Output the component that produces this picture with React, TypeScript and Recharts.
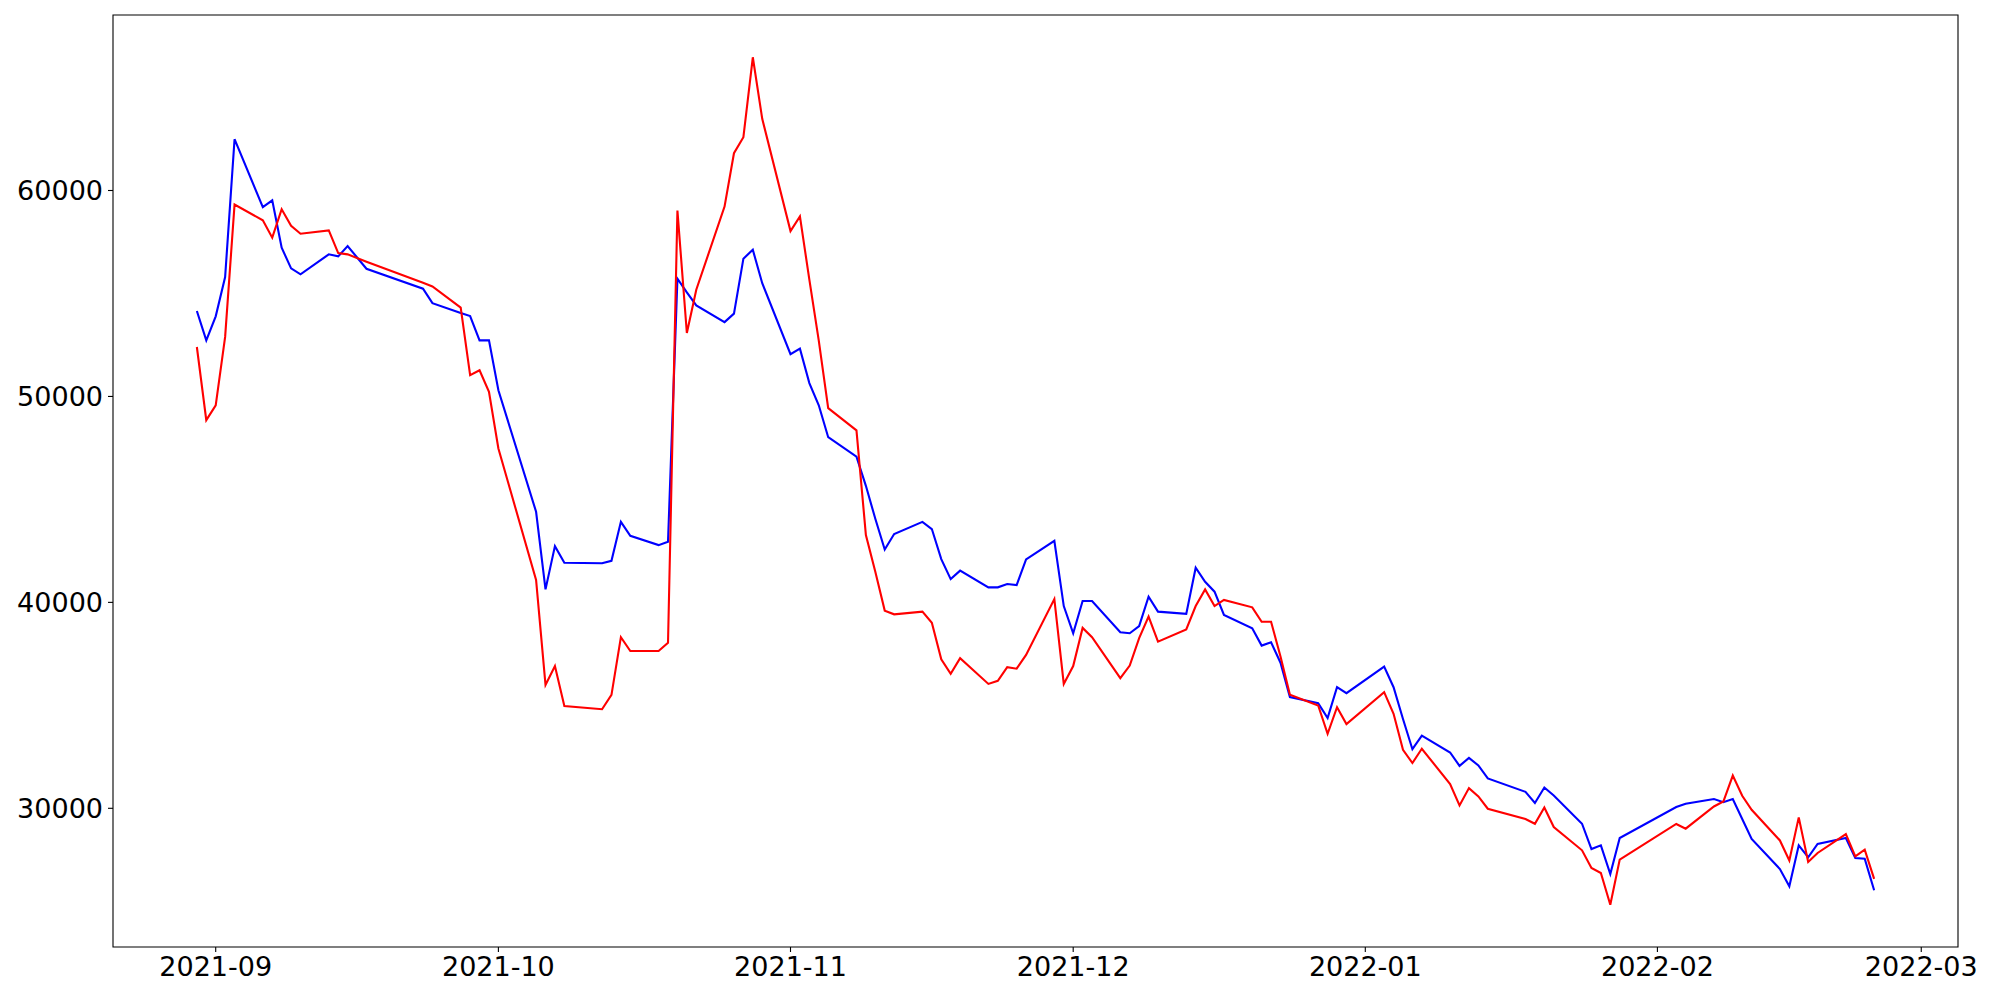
import { LineChart, Line, XAxis, YAxis, ReferenceArea } from "recharts";

const dates = [
    "2021-08-30", "2021-08-31",
    "2021-09-01", "2021-09-02", "2021-09-03", "2021-09-06", "2021-09-07", "2021-09-08", "2021-09-09", "2021-09-10",
    "2021-09-13", "2021-09-14", "2021-09-15", "2021-09-17", "2021-09-23", "2021-09-24", "2021-09-27", "2021-09-28",
    "2021-09-29", "2021-09-30",
    "2021-10-01", "2021-10-05", "2021-10-06", "2021-10-07", "2021-10-08", "2021-10-12", "2021-10-13", "2021-10-14",
    "2021-10-15", "2021-10-18", "2021-10-19", "2021-10-20", "2021-10-21", "2021-10-22", "2021-10-25", "2021-10-26",
    "2021-10-27", "2021-10-28", "2021-10-29",
    "2021-11-01", "2021-11-02", "2021-11-03", "2021-11-04", "2021-11-05", "2021-11-08", "2021-11-09", "2021-11-10",
    "2021-11-11", "2021-11-12", "2021-11-15", "2021-11-16", "2021-11-17", "2021-11-18", "2021-11-19", "2021-11-22",
    "2021-11-23", "2021-11-24", "2021-11-25", "2021-11-26", "2021-11-29", "2021-11-30",
    "2021-12-01", "2021-12-02", "2021-12-03", "2021-12-06", "2021-12-07", "2021-12-08", "2021-12-09", "2021-12-10",
    "2021-12-13", "2021-12-14", "2021-12-15", "2021-12-16", "2021-12-17", "2021-12-20", "2021-12-21", "2021-12-22",
    "2021-12-23", "2021-12-24", "2021-12-27", "2021-12-28", "2021-12-29", "2021-12-30",
    "2022-01-03", "2022-01-04", "2022-01-05", "2022-01-06", "2022-01-07", "2022-01-10", "2022-01-11", "2022-01-12",
    "2022-01-13", "2022-01-14", "2022-01-18", "2022-01-19", "2022-01-20", "2022-01-21", "2022-01-24", "2022-01-25",
    "2022-01-26", "2022-01-27", "2022-01-28",
    "2022-02-03", "2022-02-04", "2022-02-07", "2022-02-08", "2022-02-09", "2022-02-10", "2022-02-11", "2022-02-14",
    "2022-02-15", "2022-02-16", "2022-02-17", "2022-02-18", "2022-02-21", "2022-02-22", "2022-02-23", "2022-02-24",
];

const blueValues = [
    54150, 52720,
    53890, 55800, 62490, 59190, 59520, 57220, 56220, 55930, 56900, 56800, 57300, 56200, 55230, 54530, 54050, 53900,
    52720, 52720,
    50300, 44400, 40630, 42730, 41920, 41900, 42020, 43910, 43230, 42780, 42940, 55720, 55050, 54420, 53610, 54020,
    56690, 57120, 55500,
    52050, 52320, 50650, 49570, 48020, 47080, 45660, 44060, 42570, 43320, 43910, 43560, 42100, 41130, 41540, 40730,
    40730, 40890, 40840, 42090, 42990, 39820,
    38500, 40070, 40070, 38550, 38500, 38850, 40280, 39550, 39440, 41680, 41000, 40520, 39390, 38740, 37900, 38060,
    37070, 35400, 35100, 34380, 35880, 35590,
    36880, 35880, 34340, 32870, 33530, 32710, 32060, 32450, 32080, 31450, 30800, 30260, 31010, 30620, 29250, 28020,
    28200, 26810, 28560,
    30060, 30220, 30450, 30300, 30450, 29480, 28510, 27050, 26210, 28200, 27620, 28270, 28560, 27590, 27550, 26020,
];

const redValues = [
    52400, 48850,
    49570, 52890, 59320, 58550, 57710, 59090, 58290, 57900, 58060, 56960, 56900, 56540, 55520, 55340, 54310, 51030,
    51270, 50220,
    47470, 41090, 35990, 36910, 34970, 34810, 35510, 38310, 37640, 37640, 38040, 59030, 53080, 55180, 59220, 61810,
    62590, 66470, 63480,
    58030, 58740, 55670, 52710, 49430, 48350, 43270, 41490, 39600, 39420, 39550, 39010, 37240, 36530, 37290, 36040,
    36190, 36850, 36780, 37450, 40160, 36040,
    36910, 38760, 38310, 36320, 36930, 38260, 39310, 38090, 38690, 39820, 40630, 39820, 40120, 39760, 39060, 39060,
    37370, 35510, 34990, 33620, 34910, 34090,
    35640, 34590, 32840, 32200, 32890, 31180, 30140, 30980, 30580, 29980, 29480, 29250, 30040, 29090, 27960, 27100,
    26860, 25320, 27510,
    29240, 29010, 30090, 30330, 31590, 30610, 29930, 28440, 27470, 29560, 27390, 27830, 28750, 27670, 27990, 26570,
];

const monthTicks = ["2021-09-01", "2021-10-01", "2021-11-01", "2021-12-01", "2022-01-01", "2022-02-01", "2022-03-01"];
const yTicks = [30000, 40000, 50000, 60000];

const toTime = (d: string) => new Date(d + "T00:00:00Z").getTime();

const data = dates.map((d, i) => ({ t: toTime(d), blue: blueValues[i], red: redValues[i] }));

// matplotlib-style 5% padding around the data
const tMin = toTime(dates[0]);
const tMax = toTime(dates[dates.length - 1]);
const tPad = (tMax - tMin) * 0.05;
const xDomain = [tMin - tPad, tMax + tPad];
const yDomain = [23265, 68522];

const fmtMonth = (v: number) => new Date(v).toISOString().slice(0, 7);

const font = { fontFamily: "DejaVu Sans", fontSize: 27, fill: "#000" };

export default function App() {
    return (
        <div>
            <style>{"body{margin:0}"}</style>
            <LineChart width={2000} height={1000} data={data} margin={{ top: 15, right: 42, bottom: 0, left: 0 }}>
                <XAxis
                    dataKey="t"
                    type="number"
                    domain={xDomain}
                    allowDataOverflow
                    ticks={monthTicks.map(toTime)}
                    tickFormatter={fmtMonth}
                    height={53}
                    tick={font}
                    tickSize={5}
                    tickMargin={5}
                    axisLine={false}
                    tickLine={{ stroke: "#000", strokeWidth: 1.1 }}
                />
                <YAxis
                    type="number"
                    domain={yDomain}
                    allowDataOverflow
                    ticks={yTicks}
                    width={113}
                    tick={font}
                    tickSize={5}
                    tickMargin={5}
                    axisLine={false}
                    tickLine={{ stroke: "#000", strokeWidth: 1.1 }}
                />
                <Line type="linear" dataKey="blue" stroke="#0000ff" strokeWidth={2.1} dot={false} isAnimationActive={false} />
                <Line type="linear" dataKey="red" stroke="#ff0000" strokeWidth={2.1} dot={false} isAnimationActive={false} />
                <ReferenceArea
                    x1={xDomain[0]}
                    x2={xDomain[1]}
                    y1={yDomain[0]}
                    y2={yDomain[1]}
                    fill="none"
                    stroke="#000"
                    strokeWidth={1.1}
                    ifOverflow="visible"
                />
            </LineChart>
        </div>
    );
}
